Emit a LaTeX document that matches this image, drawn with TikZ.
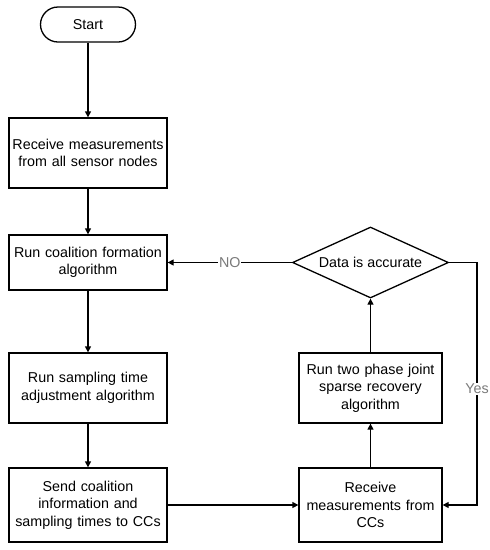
\documentclass[tikz,border=0pt]{standalone}
\usepackage{fontspec}
\setmainfont{Liberation Sans}
\usepackage{xcolor}
\usepackage{tikz}
\usetikzlibrary{arrows.meta,positioning,shapes.geometric}
\definecolor{labelgray}{HTML}{7A7A7A}

\begin{document}
\begin{tikzpicture}[
  x=1pt, y=1pt,
  font=\fontsize{14.3}{17.5}\selectfont,
  box/.style={draw, line width=1.3pt, minimum width=158pt, minimum height=70pt, text width=156pt, align=center, inner sep=0pt},
  rbox/.style={box, minimum width=143pt, text width=141pt},
  term/.style={draw, line width=1.3pt, rounded corners=17.5pt, minimum width=95pt, minimum height=35pt, inner sep=0pt},
  decision/.style={draw, diamond, line width=1.3pt, aspect=2.2, minimum width=156pt, minimum height=71pt, inner sep=0pt},
  arrow/.style={-{Triangle[length=6pt,width=6pt]}, line width=1.3pt},
  lbl/.style={fill=white, text=labelgray, inner sep=1pt}
]
\useasboundingbox (0,0) rectangle (490,-550);
\node[term] (start) at (88,-24.5) {Start};
\node[box] (recv) at (88,-153) {Receive measurements\\from all sensor nodes};
\node[box, minimum height=55pt] (coal) at (88,-262.5) {Run coalition formation\\algorithm};
\node[box] (samp) at (88,-388) {Run sampling time\\adjustment algorithm};
\node[box, minimum height=74pt] (send) at (88,-505) {Send coalition\\information and\\sampling times to CCs};
\node[rbox, minimum height=74pt] (recvcc) at (370.5,-505) {Receive\\measurements from\\CCs};
\node[rbox] (jsr) at (370.5,-388) {Run two phase joint\\sparse recovery\\algorithm};
\node[decision] (acc) at (370.5,-262.5) {Data is accurate};
\coordinate (yes) at (477,-262.5);
\draw[arrow] (start) -- (recv);
\draw[arrow] (recv) -- (coal);
\draw[arrow] (coal) -- (samp);
\draw[arrow] (samp) -- (send);
\draw[arrow] (send) -- (recvcc);
\draw[arrow] (recvcc) -- (jsr);
\draw[arrow] (jsr) -- (acc);
\draw[arrow] (acc) -- node[lbl] {NO} (coal);
\draw[arrow] (acc.east) -- (yes) |- node[lbl, pos=0.26] {Yes} (recvcc.east);
\end{tikzpicture}
\end{document}
